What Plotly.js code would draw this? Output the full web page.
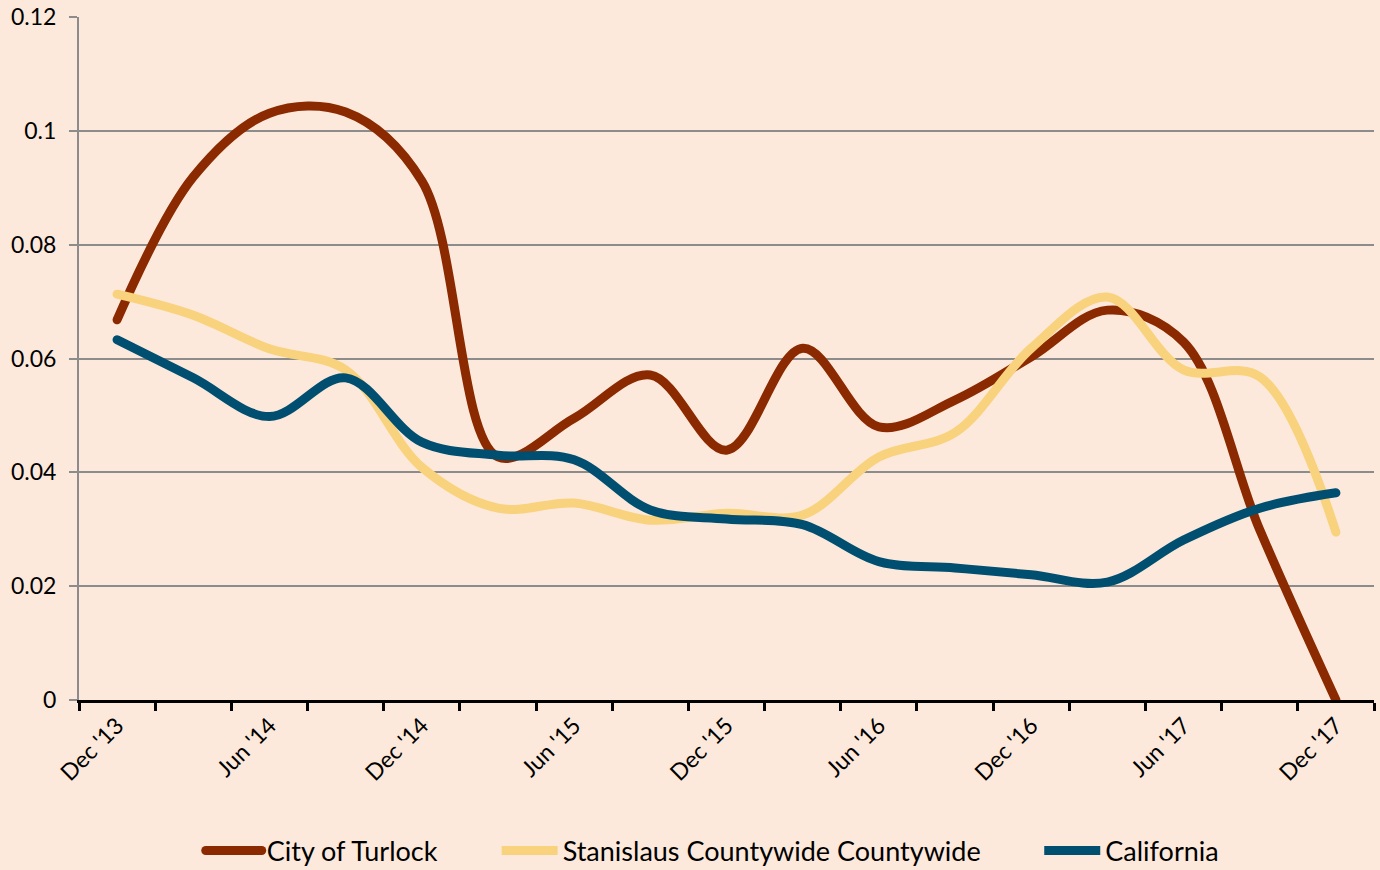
<!DOCTYPE html>
<html>
<head>
<meta charset="utf-8">
<script src="https://cdn.plot.ly/plotly-3.0.1.min.js"></script>
<style>
  html, body { margin: 0; padding: 0; background: #FDE9DB; }
  #chart { width: 1380px; height: 870px; }
  .scatterlayer .js-line, .legend .js-line { stroke-linecap: round; stroke-linejoin: round; }
</style>
</head>
<body>
<div id="chart"></div>
<script>
const categories = ["Dec '13","Mar '14","Jun '14","Sep '14","Dec '14","Mar '15","Jun '15","Sep '15","Dec '15","Mar '16","Jun '16","Sep '16","Dec '16","Mar '17","Jun '17","Sep '17","Dec '17"];
const tickLabels = ["Dec '13","","Jun '14","","Dec '14","","Jun '15","","Dec '15","","Jun '16","","Dec '16","","Jun '17","","Dec '17"];
const seriesNames = ["City of Turlock", "Stanislaus Countywide Countywide", "California"];
const turlock = [0.0668, 0.0919, 0.1031, 0.1033, 0.0912, 0.0427, 0.0495, 0.0571, 0.0439, 0.0618, 0.0480, 0.0527, 0.0603, 0.0685, 0.0629, 0.0299, 0.0];
const stanislaus = [0.0713, 0.0676, 0.0617, 0.0580, 0.0409, 0.0337, 0.0346, 0.0316, 0.0328, 0.0325, 0.0427, 0.0470, 0.0618, 0.0708, 0.0580, 0.0568, 0.0295];
const california = [0.0633, 0.0566, 0.0498, 0.0566, 0.0453, 0.0430, 0.0422, 0.0334, 0.0318, 0.0308, 0.0243, 0.0232, 0.0220, 0.0207, 0.0281, 0.0337, 0.0364];
const yTicks = [0, 0.02, 0.04, 0.06, 0.08, 0.1, 0.12];

const colors = ["#8B2A00", "#F9D27E", "#004F70"];
const values = [turlock, stanislaus, california];
const legendIds = ['legend', 'legend2', 'legend3'];
const legendX = [0.0940, 0.3225, 0.7415];

const traces = values.map((v, i) => ({
  type: 'scatter',
  mode: 'lines',
  x: categories,
  y: v,
  name: seriesNames[i],
  legend: legendIds[i],
  line: { color: colors[i], width: 9, shape: 'spline', smoothing: 1 },
  hoverinfo: 'skip'
}));

function legendAt(x) {
  return {
    orientation: 'h',
    x: x,
    xanchor: 'left',
    y: -0.221,
    yanchor: 'middle',
    itemwidth: 56,
    font: { size: 27, color: '#000000' },
    bgcolor: 'rgba(0,0,0,0)'
  };
}

const layout = {
  width: 1380,
  height: 870,
  paper_bgcolor: '#FDE9DB',
  plot_bgcolor: '#FDE9DB',
  margin: { l: 79, r: 6, t: 17, b: 170, autoexpand: false },
  font: { family: 'Lato, Carlito, sans-serif', color: '#000000' },
  xaxis: {
    type: 'category',
    categoryorder: 'array',
    categoryarray: categories,
    range: [-0.5, categories.length - 0.5],
    tickmode: 'array',
    tickvals: categories,
    ticktext: tickLabels,
    tickson: 'boundaries',
    ticks: 'outside',
    ticklen: 8,
    tickwidth: 3,
    tickcolor: '#000000',
    showline: true,
    linecolor: '#000000',
    linewidth: 3,
    showgrid: false,
    zeroline: false,
    tickangle: -45,
    tickfont: { size: 23, color: '#000000' },
    automargin: false,
    fixedrange: true
  },
  yaxis: {
    range: [0, 0.12],
    tickmode: 'array',
    tickvals: yTicks,
    ticks: 'outside',
    ticklen: 8,
    tickwidth: 2,
    tickcolor: '#8C8C8C',
    showline: true,
    linecolor: '#8C8C8C',
    linewidth: 2,
    showgrid: true,
    gridcolor: '#8C8C8C',
    gridwidth: 2,
    zeroline: false,
    ticklabelstandoff: 8,
    tickfont: { size: 23, color: '#000000' },
    automargin: false,
    fixedrange: true
  },
  showlegend: true,
  legend: legendAt(legendX[0]),
  legend2: legendAt(legendX[1]),
  legend3: legendAt(legendX[2])
};

Plotly.newPlot('chart', traces, layout, { staticPlot: true, displayModeBar: false });
</script>
</body>
</html>
